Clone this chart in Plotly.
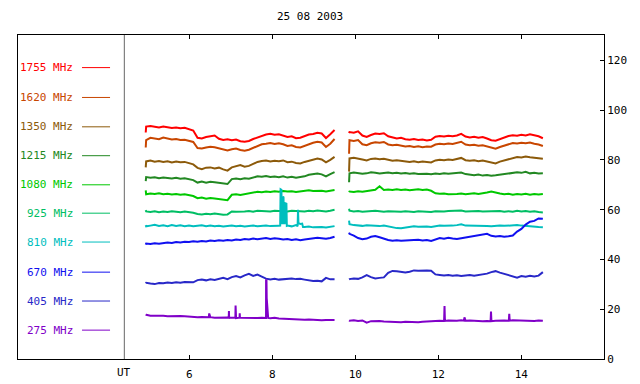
import numpy as np
import plotly.graph_objects as go

# ---------------- data ----------------
title_text = "25 08 2003"
freq_labels = ["1755 MHz", "1620 MHz", "1350 MHz", "1215 MHz", "1080 MHz",
               "925 MHz", "810 MHz", "670 MHz", "405 MHz", "275 MHz"]
colors = ["#FF0000", "#C84600", "#8C5A0A", "#228822", "#00C800",
          "#00BE64", "#00BEBE", "#1010F0", "#2828C8", "#8000C8"]
x_ticks = [6, 8, 10, 12, 14]
y_ticks = [0, 20, 40, 60, 80, 100, 120]

# time grids (UT hours) for the two observing segments
t_a = [4.95] + list(np.linspace(4.96, 9.5, 45))
t_b = [9.85] + list(np.linspace(9.86, 14.52, 46))

f1755_a = [91.0, 93.4, 93.6, 93.3, 93.0, 93.4, 93.1, 92.8, 93.0, 92.7, 92.9, 92.5, 91.8, 88.9, 88.6, 89.2, 89.6, 89.8, 88.5, 88.0, 88.3, 87.9, 88.2, 87.5, 87.3, 87.6, 88.4, 89.0, 89.8, 90.2, 90.5, 90.1, 90.3, 89.9, 89.2, 89.5, 88.7, 88.9, 89.6, 90.2, 90.4, 90.9, 90.6, 88.8, 90.3, 92.0]
f1755_b = [90.8, 91.2, 90.9, 91.5, 89.8, 89.2, 90.0, 90.6, 90.4, 90.7, 89.5, 88.9, 88.6, 88.9, 88.3, 88.1, 88.4, 88.0, 88.2, 87.8, 88.1, 89.3, 89.6, 89.4, 89.7, 89.5, 89.8, 90.5, 89.4, 89.0, 89.3, 88.9, 89.2, 88.6, 87.9, 87.7, 88.4, 88.9, 89.6, 89.9, 89.7, 90.1, 89.8, 90.3, 89.9, 89.5, 88.7]

f1620_a = [85.0, 88.0, 88.9, 88.6, 88.3, 89.0, 88.5, 88.2, 88.4, 88.0, 88.1, 87.8, 87.2, 84.8, 84.6, 85.0, 85.3, 85.1, 84.7, 84.4, 83.8, 84.3, 84.6, 84.0, 83.7, 84.1, 84.8, 85.5, 86.3, 86.5, 86.8, 86.4, 86.7, 86.3, 85.6, 85.9, 85.2, 85.0, 85.7, 86.3, 86.9, 87.3, 87.0, 85.2, 86.5, 88.4]
f1620_b = [82.5, 87.9, 87.6, 88.0, 86.3, 85.9, 86.7, 87.1, 86.9, 87.2, 86.2, 85.9, 86.1, 85.7, 85.4, 85.6, 85.2, 85.5, 85.1, 85.4, 85.3, 86.2, 86.5, 86.3, 86.6, 86.4, 86.8, 87.3, 86.2, 85.9, 86.1, 85.7, 85.9, 85.4, 84.8, 84.5, 85.2, 85.7, 86.5, 86.8, 86.6, 86.9, 86.7, 87.0, 86.5, 86.2, 85.6]

f1350_a = [77.0, 79.4, 79.8, 79.3, 79.6, 79.2, 79.5, 79.0, 79.4, 79.1, 79.2, 78.7, 78.2, 76.8, 76.3, 76.9, 77.0, 76.6, 76.9, 76.2, 75.7, 77.0, 77.4, 77.9, 77.3, 77.6, 78.4, 79.2, 79.6, 79.8, 79.4, 79.7, 79.5, 79.8, 79.1, 79.3, 78.8, 78.6, 79.2, 79.7, 80.2, 80.6, 80.2, 79.0, 80.0, 81.2]
f1350_b = [75.3, 80.6, 80.9, 80.7, 80.2, 79.8, 80.4, 80.6, 80.3, 80.5, 80.0, 79.7, 79.9, 79.6, 79.4, 79.2, 79.5, 79.1, 79.4, 79.2, 79.0, 79.8, 80.1, 79.9, 80.2, 80.0, 80.3, 80.8, 79.9, 79.7, 79.9, 79.5, 79.8, 79.4, 78.9, 78.6, 79.3, 79.8, 80.5, 80.9, 81.2, 81.0, 81.4, 81.1, 80.9, 80.7, 80.5]

f1215_a = [71.5, 73.1, 72.8, 73.0, 72.6, 72.9, 72.7, 72.5, 72.8, 72.4, 72.6, 72.2, 71.9, 70.9, 71.3, 70.8, 71.2, 71.0, 70.7, 70.5, 70.3, 72.3, 72.5, 72.2, 72.6, 72.4, 73.0, 73.4, 73.2, 73.5, 73.1, 73.3, 73.0, 73.4, 72.9, 73.2, 72.8, 73.0, 73.4, 74.0, 74.3, 74.5, 74.2, 73.4, 74.3, 75.1]
f1215_b = [71.0, 74.6, 74.9, 74.7, 74.4, 74.6, 75.0, 74.8, 74.5, 74.7, 74.9, 74.6, 74.8, 74.5, 74.7, 74.4, 74.6, 74.3, 74.5, 74.4, 74.2, 74.5, 74.3, 74.6, 74.4, 74.5, 74.7, 74.9, 74.3, 74.0, 73.8, 74.1, 73.7, 73.9, 73.6, 73.8, 74.0, 74.2, 74.5, 74.7, 75.0, 74.8, 75.2, 74.6, 74.8, 74.5, 74.6]

f1080_a = [67.8, 66.2, 66.5, 66.3, 66.6, 66.2, 66.4, 66.1, 66.3, 66.0, 66.2, 65.9, 65.5, 64.6, 64.9, 64.4, 64.7, 64.5, 64.3, 64.0, 63.8, 66.0, 66.2, 65.9, 66.2, 66.4, 66.8, 67.2, 67.0, 67.3, 67.1, 67.4, 67.2, 67.5, 67.3, 67.4, 67.1, 67.3, 67.6, 67.8, 67.5, 67.7, 67.6, 67.3, 67.5, 67.9]
f1080_b = [67.0, 67.3, 67.1, 67.4, 67.2, 67.5, 67.8, 68.0, 69.4, 67.9, 68.1, 67.9, 68.2, 67.9, 68.1, 67.8, 68.0, 68.2, 67.9, 68.1, 67.6, 66.6, 66.4, 66.5, 66.2, 66.4, 66.3, 66.5, 66.2, 66.4, 66.6, 66.3, 66.5, 66.9, 67.3, 66.8, 66.5, 66.2, 66.4, 66.0, 66.3, 66.1, 66.4, 66.0, 66.3, 66.1, 66.3]

f925_a = [59.8, 59.3, 59.1, 59.4, 59.0, 59.3, 59.1, 59.4, 59.2, 59.0, 59.3, 59.1, 58.8, 58.3, 58.1, 58.4, 58.2, 58.5, 58.2, 58.0, 58.1, 59.3, 59.2, 59.4, 59.3, 59.5, 59.2, 59.6, 59.4, 59.5, 59.3, 59.6, 59.4, 59.5, 59.3, 59.6, 59.4, 59.5, 59.3, 59.6, 59.4, 59.7, 59.5, 59.3, 59.6, 60.0]
f925_b = [60.4, 59.6, 59.3, 59.5, 59.2, 59.4, 59.3, 59.6, 59.4, 59.2, 59.4, 59.3, 59.5, 59.2, 59.4, 59.3, 59.1, 59.4, 59.2, 59.3, 59.1, 59.4, 59.2, 59.3, 59.5, 59.6, 59.4, 59.7, 59.3, 59.4, 59.2, 59.5, 59.3, 59.4, 59.2, 59.3, 59.5, 59.2, 59.4, 59.2, 59.6, 59.3, 59.5, 59.2, 59.4, 59.1, 58.9]

f810_a = [53.8, 53.3, 53.6, 53.9, 53.5, 53.7, 53.4, 53.8, 53.5, 53.7, 53.4, 53.6, 53.3, 53.5, 53.7, 53.4, 53.6, 53.3, 53.5, 53.2, 53.4, 53.6, 53.3, 53.5, 53.2, 53.4, 53.6, 53.3, 53.5, 53.6, 53.4, 53.3, 53.5, 54.6, 53.6, 53.3, 53.8, 54.3, 53.0, 53.2, 52.9, 53.1, 53.0, 52.8, 53.1, 53.4]
f810_b = [55.6, 54.2, 53.8, 53.6, 53.5, 53.7, 53.5, 53.6, 53.4, 53.6, 53.2, 52.8, 52.6, 52.5, 52.8, 53.2, 53.3, 53.1, 53.3, 53.2, 53.0, 53.4, 53.6, 53.5, 53.4, 53.6, 53.8, 54.1, 53.6, 53.5, 53.4, 53.6, 53.5, 53.4, 53.3, 53.5, 53.6, 53.5, 53.7, 53.6, 53.8, 53.6, 53.4, 53.3, 53.1, 53.0, 52.9]
f810_spikes = [(8.19, 53.6), (8.20, 68.2), (8.22, 68.0), (8.23, 54.6), (8.255, 54.6), (8.26, 65.3),
               (8.27, 65.0), (8.28, 54.6), (8.30, 54.6), (8.31, 62.6), (8.34, 62.4), (8.35, 53.5),
               (8.61, 53.4), (8.62, 60.0), (8.63, 54.6), (8.72, 54.4), (8.74, 53.0)]

f670_a = [46.0, 46.4, 46.2, 46.5, 46.3, 46.6, 46.8, 46.6, 47.0, 46.8, 47.1, 47.0, 47.3, 47.1, 47.4, 47.2, 47.6, 47.4, 47.7, 47.5, 47.8, 47.6, 48.0, 47.8, 48.2, 48.0, 48.4, 48.1, 48.3, 48.6, 48.2, 48.5, 48.3, 48.0, 48.2, 47.8, 48.1, 47.7, 48.0, 48.3, 48.5, 48.7, 48.5, 48.3, 48.6, 49.1]
f670_b = [50.8, 50.3, 49.6, 48.6, 48.1, 48.4, 49.1, 49.4, 48.9, 48.3, 47.8, 47.5, 47.7, 47.5, 47.6, 47.8, 47.6, 47.9, 47.6, 47.8, 47.4, 48.1, 48.6, 48.3, 48.7, 48.4, 48.2, 48.5, 48.8, 49.3, 49.6, 49.8, 50.1, 50.3, 49.5, 49.2, 49.4, 49.1, 49.3, 49.6, 51.2, 52.3, 54.0, 55.2, 55.5, 56.5, 56.4]

f405_a = [30.4, 30.6, 30.3, 30.1, 30.5, 30.4, 30.7, 30.5, 30.8, 30.6, 30.9, 30.7, 30.8, 31.7, 31.9, 31.6, 32.0, 31.8, 32.3, 32.6, 32.1, 32.9, 33.3, 32.8, 33.6, 34.2, 33.4, 33.9, 33.1, 32.3, 32.0, 32.2, 31.9, 32.1, 32.0, 32.3, 32.1, 32.2, 31.9, 31.6, 31.3, 31.4, 31.2, 32.6, 32.0, 32.0]
f405_b = [32.0, 32.1, 32.3, 32.2, 32.8, 33.7, 32.9, 32.4, 32.6, 32.8, 34.6, 35.4, 35.3, 35.0, 34.8, 35.1, 35.6, 35.5, 35.7, 35.6, 35.5, 34.0, 33.8, 33.6, 33.8, 33.5, 33.7, 33.4, 33.6, 33.8, 33.5, 33.7, 33.9, 34.3, 34.9, 35.3, 34.7, 34.2, 33.9, 33.3, 32.7, 33.3, 33.1, 33.4, 33.2, 33.5, 34.9]

f275_a = [17.9, 17.8, 17.4, 17.5, 17.3, 17.4, 17.2, 17.3, 17.1, 17.3, 17.2, 17.0, 16.9, 16.8, 16.9, 16.7, 16.8, 16.6, 16.7, 16.5, 16.7, 16.6, 16.4, 16.6, 16.5, 16.6, 16.4, 16.5, 16.6, 16.5, 16.4, 16.6, 16.3, 16.2, 16.0, 16.1, 15.9, 16.0, 15.8, 15.9, 15.7, 15.8, 15.6, 15.7, 15.6, 15.7]
f275_b = [15.5, 15.4, 15.6, 15.3, 15.5, 14.6, 15.2, 15.4, 15.3, 15.1, 15.0, 14.9, 15.1, 14.8, 15.0, 14.9, 15.1, 14.8, 15.0, 15.2, 15.1, 15.3, 15.4, 15.2, 15.5, 15.3, 15.4, 15.6, 15.4, 15.5, 15.3, 15.4, 15.2, 15.3, 15.5, 15.4, 15.6, 15.5, 15.4, 15.6, 15.5, 15.4, 15.6, 15.5, 15.3, 15.5, 15.4]
f275_spikes = [(6.47, 16.8), (6.48, 18.3), (6.49, 16.8), (6.95, 16.6), (6.955, 19.3), (6.96, 16.6),
               (7.11, 16.6), (7.115, 21.5), (7.12, 16.6), (7.21, 16.6), (7.215, 18.4), (7.22, 16.6),
               (7.84, 16.5), (7.85, 31.6), (7.86, 31.6), (7.865, 24.5), (7.88, 20.5), (7.89, 16.6),
               (7.90, 16.5), (12.14, 15.3), (12.15, 21.3), (12.16, 15.3), (12.62, 15.4), (12.63, 16.7),
               (12.64, 15.4), (13.26, 15.2), (13.27, 19.1), (13.28, 15.2), (13.70, 15.4), (13.71, 18.2),
               (13.72, 15.4)]

series_a = [f1755_a, f1620_a, f1350_a, f1215_a, f1080_a, f925_a, f810_a, f670_a, f405_a, f275_a]
series_b = [f1755_b, f1620_b, f1350_b, f1215_b, f1080_b, f925_b, f810_b, f670_b, f405_b, f275_b]
series_spikes = [[], [], [], [], [], [], f810_spikes, [], [], f275_spikes]

# legend panel rows (data units of the right axis)
legend_rows = [117.1, 105.1, 93.3, 81.7, 70.0, 58.6, 47.0, 34.9, 23.3, 11.6]

# ---------------- figure ----------------
X_RANGE = [1.872, 15.993]
DIVIDER = 4.434
FONT = "DejaVu Sans Mono"

fig = go.Figure()


def segment(times, vals, spikes, lo, hi):
    pts = list(zip(times, vals)) + [p for p in spikes if lo <= p[0] <= hi]
    pts.sort(key=lambda p: p[0])
    return [p[0] for p in pts], [p[1] for p in pts]


for va, vb, sp, col in zip(series_a, series_b, series_spikes, colors):
    assert len(va) == len(t_a) and len(vb) == len(t_b)
    xa, ya = segment(t_a, va, sp, t_a[0], t_a[-1])
    xb, yb = segment(t_b, vb, sp, t_b[0], t_b[-1])
    fig.add_trace(go.Scatter(x=xa + [None] + xb, y=ya + [None] + yb, mode="lines",
                             line=dict(color=col, width=2), connectgaps=False,
                             hoverinfo="skip", showlegend=False))

# legend panel
for lab, col, yv in zip(freq_labels, colors, legend_rows):
    fig.add_annotation(x=3.246, y=yv, xref="x", yref="y", text=lab, showarrow=False,
                       xanchor="right", yanchor="middle",
                       font=dict(family=FONT, size=11, color=col))
    fig.add_shape(type="line", x0=3.415, x1=4.09, y0=yv, y1=yv, xref="x", yref="y",
                  line=dict(color=col, width=1))

# divider between legend panel and data
fig.add_shape(type="line", x0=DIVIDER, x1=DIVIDER, y0=0, y1=1, xref="x", yref="paper",
              line=dict(color="#666666", width=1))

fig.add_annotation(x=DIVIDER, y=-0.043, xref="x", yref="paper", text="UT", showarrow=False,
                   xanchor="center", yanchor="middle", font=dict(family=FONT, size=11, color="black"))
fig.add_annotation(x=0.498, y=1.056, xref="paper", yref="paper", text=title_text, showarrow=False,
                   xanchor="center", yanchor="middle", font=dict(family=FONT, size=11, color="black"))

# page body adds an 8px offset, so the figure is 632x376 and placed at (8, 8)
fig.update_layout(
    width=632, height=376,
    margin=dict(l=10, r=36, t=27, b=25, autoexpand=False),
    paper_bgcolor="white", plot_bgcolor="white",
    showlegend=False,
    font=dict(family=FONT, size=11, color="black"),
    xaxis=dict(range=X_RANGE, tickvals=x_ticks, ticktext=[str(v) for v in x_ticks],
               ticks="inside", ticklen=4, tickcolor="black", showline=True, linecolor="black",
               linewidth=1, mirror="ticks", showgrid=False, zeroline=False,
               ticklabelstandoff=5, automargin=False,
               tickfont=dict(family=FONT, size=11)),
    yaxis=dict(range=[0, 130.2], tickvals=y_ticks, side="right",
               ticks="inside", ticklen=4, tickcolor="black", showline=True, linecolor="black",
               linewidth=1, mirror=True, showgrid=False, zeroline=False, automargin=False,
               tickfont=dict(family=FONT, size=11)),
)

fig.write_html("out.html")
